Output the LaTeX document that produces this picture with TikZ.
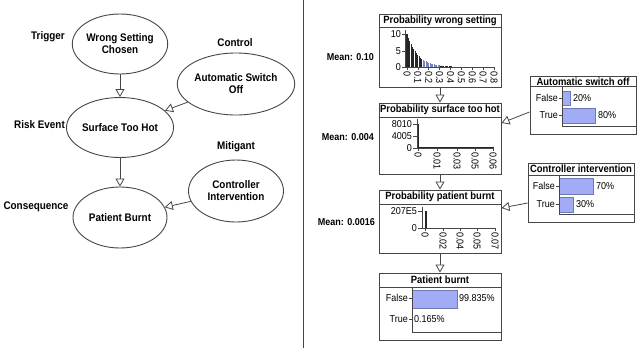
\documentclass[tikz,border=0pt]{standalone}
\usepackage{fontspec}
\newfontfamily\nf{Liberation Sans}[FakeStretch=0.9]
\usetikzlibrary{arrows.meta,shapes.geometric}
\definecolor{barfill}{RGB}{162,172,245}
\definecolor{bardraw}{RGB}{110,120,180}
\definecolor{linec}{RGB}{70,70,70}
\definecolor{histblue}{RGB}{120,130,190}
\begin{document}
\begin{tikzpicture}[x=1pt,y=-1pt,
  font=\nf,
  ell/.style={ellipse, draw=linec, line width=0.9pt, fill=white, align=center, inner sep=0pt,
    font=\nf\bfseries\fontsize{11}{12}\selectfont},
  lab/.style={font=\nf\bfseries\fontsize{11}{12}\selectfont},
  conn/.style={draw=linec, line width=0.8pt, -{Triangle[open, length=8pt, width=9pt, fill=white]}},
  panel/.style={draw=linec, line width=0.9pt, fill=white, inner sep=0pt},
  ttl/.style={font=\nf\bfseries\fontsize{10.5}{12}\selectfont, inner sep=0pt},
  meanl/.style={font=\nf\bfseries\fontsize{10}{12}\selectfont, anchor=east, inner sep=0pt},
  tk/.style={font=\nf\fontsize{10}{11}\selectfont, inner sep=1pt},
  axl/.style={draw=linec, line width=0.7pt},
  bar/.style={fill=barfill, draw=bardraw, line width=0.5pt}
]
\fill[white] (0,0) rectangle (640,354);
\useasboundingbox (0,0) rectangle (640,354);

% ---------------- left: network ----------------
\node[ell, minimum width=94pt, minimum height=60pt] (wsc) at (120,44) {Wrong Setting\\Chosen};
\node[ell, minimum width=95pt, minimum height=62pt] (aso) at (236,84) {Automatic Switch\\Off};
\node[ell, minimum width=94pt, minimum height=60pt] (sth) at (120,127.5) {Surface Too Hot};
\node[ell, minimum width=95pt, minimum height=62pt] (civ) at (236,191) {Controller\\Intervention};
\node[ell, minimum width=94pt, minimum height=61pt] (pb) at (120,217.5) {Patient Burnt};

\node[lab] (trig) at (48,37) {Trigger};
\node[lab] (ctrl) at (235,43) {Control};
\node[lab] (risk) at (39.5,125) {Risk Event};
\node[lab] (miti) at (236,147) {Mitigant};
\node[lab] (cons) at (36,207) {Consequence};

\draw[conn] (wsc) -- (sth);
\draw[conn] (aso) -- (sth);
\draw[conn] (sth) -- (pb);
\draw[conn] (civ) -- (pb);

% divider
\draw[draw=linec, line width=0.9pt] (303,0) -- (303,348);

% ---------------- right: panels ----------------
% panel 1
\node[panel, minimum width=122pt, minimum height=73pt] (b1) at (440,50.5) {};
\node[ttl] (b1t) at (440,21) {Probability wrong setting};
\draw[axl] (379,27.5) -- (501,27.5);
\node[meanl] (m1) at (374,57) {Mean: 0.10};
\foreach \i in {0,...,40} {
  \pgfmathsetmacro\xx{407+\i*1.359}
  \pgfmathsetmacro\hh{67-33*exp(-0.125*\i)}
  \ifnum\i>11 \ifnum\i<25
    \draw[histblue, line width=1.05pt] (\xx,67) -- (\xx,\hh);
  \else
    \draw[black!85, line width=1.05pt] (\xx,67) -- (\xx,\hh);
  \fi\else
    \draw[black!85, line width=1.05pt] (\xx,67) -- (\xx,\hh);
  \fi
}
\draw[axl] (405,30) -- (405,67) -- (495,67);
\foreach \v/\y in {10/34, 5/51, 0/67} {
  \draw[axl] (402,\y) -- (405,\y);
  \node[tk, anchor=east] at (402,\y) {\v};
}
\foreach \i/\t in {0/0, 1/0.1, 2/0.2, 3/0.3, 4/0.4, 5/0.5, 6/0.6, 7/0.7, 8/0.8} {
  \draw[axl] (407+\i*10.875,67) -- (407+\i*10.875,70);
  \node[tk, rotate=-90, anchor=west] at (407+\i*10.875,70) {\t};
}

% panel 2
\node[panel, minimum width=122pt, minimum height=71pt] (b2) at (440,138.5) {};
\node[ttl] (b2t) at (440,110) {Probability surface too hot};
\draw[axl] (379,117) -- (501,117);
\node[meanl] (m2) at (374,137) {Mean: 0.004};
\draw[axl] (417,119) -- (417,148) -- (494,148);
\draw[black!85, line width=1.2pt] (418.6,148) -- (418.6,124);
\draw[black!85, line width=1.2pt] (418,147.4) -- (494,147.4);
\foreach \v/\y in {8010/124, 4005/136, 0/148} {
  \draw[axl] (413,\y) -- (417,\y);
  \node[tk, anchor=east] at (413,\y) {\v};
}
\foreach \x/\t in {418/0, 437/0.01, 457/0.03, 475/0.05, 493/0.06} {
  \draw[axl] (\x,148) -- (\x,151);
  \node[tk, rotate=-90, anchor=west] at (\x,151) {\t};
}

% panel 3
\node[panel, minimum width=122pt, minimum height=63pt] (b3) at (440,221.5) {};
\node[ttl] (b3t) at (440,197) {Probability patient burnt};
\draw[axl] (379,204) -- (501,204);
\node[meanl] (m3) at (375,222) {Mean: 0.0016};
\draw[axl] (422,207) -- (422,228) -- (495,228);
\draw[black!85, line width=1.1pt] (426,228) -- (426,211);
\foreach \v/\y in {207E5/211, 0/228} {
  \draw[axl] (418,\y) -- (422,\y);
  \node[tk, anchor=east] at (418,\y) {\v};
}
\foreach \x/\t in {425/0, 443/0.02, 460/0.04, 477/0.05, 495/0.07} {
  \draw[axl] (\x,228) -- (\x,231);
  \node[tk, rotate=-90, anchor=west] at (\x,231) {\t};
}

% panel 4
\node[panel, minimum width=122pt, minimum height=67pt] (b4) at (440,306.5) {};
\node[ttl] (b4t) at (440,280) {Patient burnt};
\draw[axl] (379,287) -- (501,287);
\draw[bar] (412,290) rectangle (457,308);
\draw[axl] (412,287) -- (412,332) -- (501,332);
\draw[axl] (409,298) -- (412,298);
\draw[axl] (409,319) -- (412,319);
\node[tk, anchor=east] at (409,298) {False};
\node[tk, anchor=east] at (409,319) {True};
\node[tk, anchor=west] at (458,298) {99.835\%};
\node[tk, anchor=west] at (413,319) {0.165\%};

% automatic switch off
\node[panel, minimum width=106pt, minimum height=58pt] (asob) at (583,105) {};
\node[ttl] (asot) at (583,81.5) {Automatic switch off};
\draw[axl] (530,86.5) -- (636,86.5);
\draw[bar] (562,91) rectangle (570,105);
\draw[bar] (562,108) rectangle (595,123);
\draw[axl] (562,86.5) -- (562,126) -- (636,126);
\draw[axl] (559,98) -- (562,98);
\draw[axl] (559,115.5) -- (562,115.5);
\node[tk, anchor=east] at (559,98) {False};
\node[tk, anchor=east] at (559,115.5) {True};
\node[tk, anchor=west] at (572,98) {20\%};
\node[tk, anchor=west] at (597,115.5) {80\%};

% controller intervention
\node[panel, minimum width=106pt, minimum height=59pt] (cib) at (581,192.5) {};
\node[ttl] (cit) at (581,169) {Controller intervention};
\draw[axl] (528,175) -- (634,175);
\draw[bar] (559,178) rectangle (593,194);
\draw[bar] (559,197) rectangle (573,212);
\draw[axl] (559,175) -- (559,214) -- (634,214);
\draw[axl] (556,186) -- (559,186);
\draw[axl] (556,204.5) -- (559,204.5);
\node[tk, anchor=east] at (556,186) {False};
\node[tk, anchor=east] at (556,204.5) {True};
\node[tk, anchor=west] at (595,186) {70\%};
\node[tk, anchor=west] at (575,204.5) {30\%};

% connectors
\draw[conn] (b1.south) -- (b2.north);
\draw[conn] (b2.south) -- (b3.north);
\draw[conn] (b3.south) -- (b4.north);
\draw[conn] ([yshift=-7pt]asob.west) -- ([yshift=15.5pt]b2.east);
\draw[conn] ([yshift=-10.5pt]cib.west) -- ([yshift=13.5pt]b3.east);
\end{tikzpicture}
\end{document}
